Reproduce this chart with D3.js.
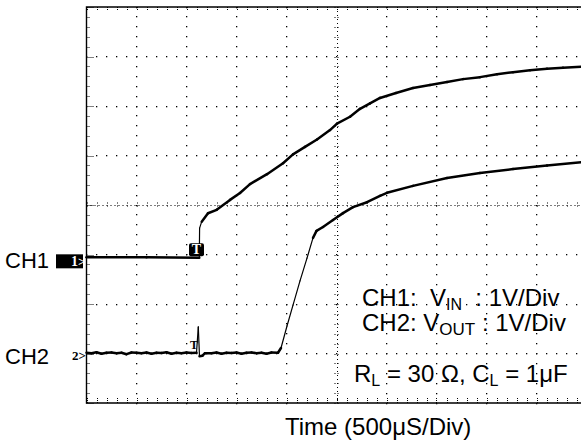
<!DOCTYPE html>
<html>
<head>
<meta charset="utf-8">
<script src="https://cdn.jsdelivr.net/npm/d3@7"></script>
<style>
  body { margin: 0; background: #fff; }
  svg text { font-family: Arial, "Liberation Sans", sans-serif; white-space: pre; }
</style>
</head>
<body>
<div id="scope"></div>
<script>
// time in ms (500 uS/div), values in volts (1 V/div)
const ch1Time = [0, 0.6, 1.128, 1.131, 1.152, 1.215, 1.302, 1.435, 1.535, 1.635, 1.805, 1.965,
	2.065, 2.185, 2.305, 2.435, 2.505, 2.635, 2.735, 2.835, 2.935, 3.095, 3.265, 3.435, 3.605,
	3.765, 3.935, 4.105, 4.265, 4.435, 4.605, 4.765, 4.95];
const ch1Volts = [0, 0, -0.01, 0.59, 0.72, 0.89, 0.96, 1.16, 1.30, 1.48, 1.68, 1.90,
	2.08, 2.23, 2.38, 2.57, 2.70, 2.84, 3.00, 3.11, 3.22, 3.32, 3.42, 3.48, 3.54,
	3.60, 3.64, 3.70, 3.74, 3.78, 3.81, 3.83, 3.85];

const ch2Time = [0, 0.05, 0.1, 0.15, 0.2, 0.25, 0.3, 0.35, 0.4, 0.45, 0.5, 0.55, 0.6, 0.65,
	0.7, 0.75, 0.8, 0.85, 0.9, 0.95, 1.0, 1.05, 1.10, 1.118, 1.13, 1.16, 1.185,
	1.25, 1.3, 1.35, 1.4, 1.45, 1.5, 1.55, 1.6, 1.65, 1.7, 1.75, 1.8, 1.85, 1.915,
	1.945, 2.005, 2.065, 2.135, 2.205, 2.265, 2.30, 2.365, 2.465, 2.565, 2.665, 2.805,
	2.935, 3.005, 3.265, 3.605, 3.935, 4.265, 4.605, 4.95];
const ch2Volts = [0, -0.01, 0.01, -0.02, 0, 0.005, -0.01, 0, -0.03, 0.005, 0, -0.01, 0.005, -0.02,
	0, -0.005, 0.01, -0.02, 0, -0.01, 0.005, -0.005, 0, 0.52, -0.07, -0.06, -0.01,
	-0.01, 0.005, -0.02, 0, -0.005, 0.005, -0.02, 0, 0.005, -0.01, 0, -0.02, 0.005, 0,
	0.095, 0.54, 0.96, 1.45, 1.91, 2.32, 2.46, 2.54, 2.68, 2.82, 2.94, 3.04,
	3.17, 3.23, 3.37, 3.53, 3.63, 3.71, 3.78, 3.85];

// ground marker offsets, in divisions from screen centre
const ch1Offset = -1.057;
const ch2Offset = -2.984;

const w = 581;
const h = 446;

const svg = d3.select('#scope').append('svg')
	.attr('width', w)
	.attr('height', h);

const x = d3.scaleLinear().domain([0, 5]).range([86.5, 586.5]);
const yDiv = d3.scaleLinear().domain([-4, 4]).range([403, 7]);

const grid = svg.append('g').attr('class', 'grid');

// dotted graticule, one dot per minor division
const minorX = d3.range(0, 5.0001, 0.1);
const minorY = d3.range(-4, 4.0001, 0.2);
const px = v => Math.round(v);

[0.5, 1, 1.5, 2, 3, 3.5, 4, 4.5].forEach(t => {
	grid.selectAll(null).data(minorY).enter().append('rect')
		.attr('x', px(x(t) - 0.5)).attr('y', d => px(yDiv(d) - 0.5))
		.attr('width', 1.3).attr('height', 1.3).attr('fill', '#000');
});
[-3, -2, -1, 1, 2, 3].forEach(v => {
	grid.selectAll(null).data(minorX).enter().append('rect')
		.attr('x', d => px(x(d) - 0.5)).attr('y', px(yDiv(v) - 0.5))
		.attr('width', 1.3).attr('height', 1.3).attr('fill', '#000');
});

// centre axes with ticks
const cx = px(x(2.5)) + 0.5;
const cy = px(yDiv(0)) + 0.5;
grid.append('line')
	.attr('x1', x(0)).attr('x2', x(5)).attr('y1', cy).attr('y2', cy)
	.attr('stroke', '#000').attr('stroke-width', 1).attr('stroke-dasharray', '1,3');
grid.append('line')
	.attr('x1', cx).attr('x2', cx).attr('y1', yDiv(4)).attr('y2', yDiv(-4))
	.attr('stroke', '#000').attr('stroke-width', 1).attr('stroke-dasharray', '1,3');
grid.selectAll(null).data(minorX).enter().append('line')
	.attr('x1', d => px(x(d)) + 0.5).attr('x2', d => px(x(d)) + 0.5)
	.attr('y1', cy - 3).attr('y2', cy + 3)
	.attr('stroke', '#000').attr('stroke-dasharray', '1,2');
grid.selectAll(null).data(minorY).enter().append('line')
	.attr('y1', d => px(yDiv(d)) + 0.5).attr('y2', d => px(yDiv(d)) + 0.5)
	.attr('x1', cx - 3).attr('x2', cx + 3)
	.attr('stroke', '#000').attr('stroke-dasharray', '1,2');

// edge ticks
grid.selectAll(null).data(minorX).enter().append('line')
	.attr('x1', d => px(x(d)) + 0.5).attr('x2', d => px(x(d)) + 0.5)
	.attr('y1', yDiv(4)).attr('y2', yDiv(4) + 4)
	.attr('stroke', '#000').attr('stroke-dasharray', '1,1');
grid.selectAll(null).data(minorX).enter().append('line')
	.attr('x1', d => px(x(d)) + 0.5).attr('x2', d => px(x(d)) + 0.5)
	.attr('y1', yDiv(-4) - 5).attr('y2', yDiv(-4))
	.attr('stroke', '#000').attr('stroke-dasharray', '1,1');
grid.selectAll(null).data(minorY).enter().append('line')
	.attr('y1', d => px(yDiv(d)) + 0.5).attr('y2', d => px(yDiv(d)) + 0.5)
	.attr('x1', x(0)).attr('x2', d => x(0) + (Math.abs(d % 1) < 0.01 ? 7 : 4))
	.attr('stroke', '#000').attr('stroke-dasharray', '1,1');

// frame (right side lies past the window)
svg.append('path')
	.attr('d', `M${x(5)},${yDiv(4)}H${x(0)}V${yDiv(-4)}H${x(5)}`)
	.attr('fill', 'none').attr('stroke', '#000').attr('stroke-width', 1.4);

// traces: fast edges drawn thin, slow parts thick like the beam
const drawTrace = (times, volts, offset) => {
	const pts = times.map((t, i) => [x(t), yDiv(volts[i] + offset)]);
	const segs = d3.pairs(pts);
	svg.append('g').selectAll('line').data(segs).enter().append('line')
		.attr('x1', d => d[0][0]).attr('y1', d => d[0][1])
		.attr('x2', d => d[1][0]).attr('y2', d => d[1][1])
		.attr('stroke', '#000')
		.attr('stroke-linecap', 'round')
		.attr('stroke-width', d => {
			const dx = Math.abs(d[1][0] - d[0][0]) || 0.01;
			return Math.abs(d[1][1] - d[0][1]) / dx > 2 ? 1.2 : 2.5;
		});
};
drawTrace(ch1Time, ch1Volts, ch1Offset);
drawTrace(ch2Time, ch2Volts, ch2Offset);

// channel markers
const y1 = yDiv(ch1Offset);
const y2 = yDiv(ch2Offset);

svg.append('text').attr('x', 5).attr('y', y1 + 11).attr('font-size', 22).text('CH1');
svg.append('text').attr('x', 5).attr('y', y2 + 11).attr('font-size', 22).text('CH2');

const serif = '"Liberation Serif", "Times New Roman", serif';
svg.append('rect').attr('x', 56).attr('y', y1 - 3).attr('width', 27).attr('height', 14).attr('fill', '#000');
svg.append('text').attr('x', 71).attr('y', y1 + 9)
	.style('font-family', serif).attr('font-weight', 'bold')
	.attr('font-size', 14).attr('fill', '#fff').text('1');
svg.append('text').attr('x', 78).attr('y', y1 + 9)
	.style('font-family', serif).attr('font-weight', 'bold')
	.attr('font-size', 13).attr('fill', '#fff').text('>');
svg.append('text').attr('x', 72).attr('y', y2 + 7)
	.style('font-family', serif).attr('font-weight', 'bold')
	.attr('font-size', 13).attr('fill', '#000').text('2>');

// trigger markers
svg.append('rect').attr('x', 189).attr('y', y1 - 14).attr('width', 15).attr('height', 13)
	.attr('rx', 2).attr('fill', '#000');
svg.append('text').attr('x', 196.5).attr('y', y1 - 3).attr('text-anchor', 'middle')
	.style('font-family', serif).attr('font-weight', 'bold')
	.attr('font-size', 14).attr('fill', '#fff').text('T');
svg.append('text').attr('x', 190).attr('y', y2 - 4)
	.style('font-family', serif).attr('font-weight', 'bold')
	.attr('font-size', 12).attr('fill', '#000').text('T');

// annotations
const fs = 24;
const sub = 16;
const note = svg.append('g').attr('font-size', fs);
const l1 = note.append('text').attr('x', 362).attr('y', 306);
l1.append('tspan').text('CH1:  V');
l1.append('tspan').attr('font-size', sub).attr('dy', 4).text('IN');
l1.append('tspan').attr('dy', -4).text('  : 1V/Div');
const l2 = note.append('text').attr('x', 362).attr('y', 331);
l2.append('tspan').text('CH2: V');
l2.append('tspan').attr('font-size', sub + 1).attr('dy', 4).text('OUT');
l2.append('tspan').attr('dy', -4).text(' : 1V/Div');
const l3 = note.append('text').attr('x', 354).attr('y', 382);
l3.append('tspan').text('R');
l3.append('tspan').attr('font-size', sub).attr('dy', 4).text('L');
l3.append('tspan').attr('dy', -4).text(' = 30 \u03A9, C');
l3.append('tspan').attr('font-size', sub).attr('dy', 4).text('L');
l3.append('tspan').attr('dy', -4).text(' = 1\u03BCF');

svg.append('text').attr('x', 285).attr('y', 435).attr('font-size', 24).text('Time (500\u03BCS/Div)');
</script>
</body>
</html>
